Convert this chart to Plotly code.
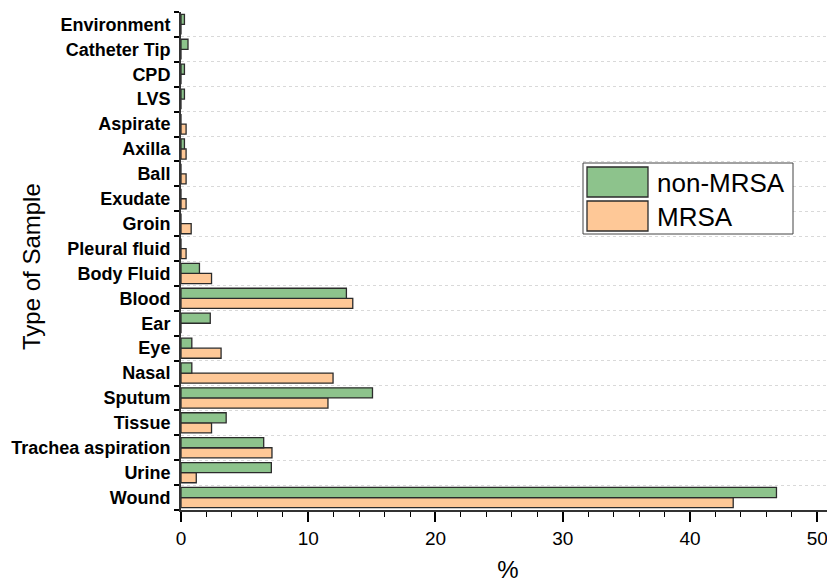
import plotly.graph_objects as go

categories = ["Wound", "Urine", "Trachea aspiration", "Tissue", "Sputum", "Nasal",
              "Eye", "Ear", "Blood", "Body Fluid", "Pleural fluid", "Groin",
              "Exudate", "Ball", "Axilla", "Aspirate", "LVS", "CPD",
              "Catheter Tip", "Environment"]
non_mrsa = [46.8, 7.1, 6.5, 3.55, 15.05, 0.85, 0.85, 2.3, 13.0, 1.45,
            0, 0, 0, 0, 0.27, 0, 0.27, 0.27, 0.55, 0.27]
mrsa = [43.4, 1.2, 7.15, 2.4, 11.55, 11.95, 3.15, 0, 13.5, 2.4,
        0.4, 0.8, 0.4, 0.4, 0.4, 0.4, 0, 0, 0, 0]
x_ticks = [0, 10, 20, 30, 40, 50]

GREEN = "#8dc38c"
ORANGE = "#fec897"
EDGE = "#2b2b2b"
FONT = "Liberation Sans, Arial, sans-serif"

# page offset of the figure inside the browser window (default body margin)
OFF = 8
W, H = 827, 575
ml, mr, mt, mb = 173, 0, 4, 73
pw, ph = W - ml - mr, H - mt - mb


def vx(px):
    """viewport x pixel -> paper x"""
    return (px - OFF - ml) / pw


def vy(py):
    """viewport y pixel -> paper y"""
    return 1 - (py - OFF - mt) / ph


fig = go.Figure()
fig.add_trace(go.Bar(y=categories, x=mrsa, orientation="h", name="MRSA",
                     marker=dict(color=ORANGE, line=dict(color=EDGE, width=1.3)),
                     showlegend=False))
fig.add_trace(go.Bar(y=categories, x=non_mrsa, orientation="h", name="non-MRSA",
                     marker=dict(color=GREEN, line=dict(color=EDGE, width=1.3)),
                     showlegend=False))

# legend drawn as box + swatches + labels
legend_items = [("non-MRSA", GREEN), ("MRSA", ORANGE)]
fig.add_shape(type="rect", xref="paper", yref="paper",
              x0=vx(583), x1=vx(793), y0=vy(234), y1=vy(163),
              line=dict(color="#444444", width=1), fillcolor="white", layer="above")
for i, (name, col) in enumerate(legend_items):
    top = 167 + i * 34
    fig.add_shape(type="rect", xref="paper", yref="paper",
                  x0=vx(587), x1=vx(648), y0=vy(top + 30), y1=vy(top),
                  line=dict(color=EDGE, width=1.3), fillcolor=col, layer="above")
    fig.add_annotation(xref="paper", yref="paper", x=vx(655),
                       y=vy(top + 16), text=name, showarrow=False,
                       xanchor="left", yanchor="middle",
                       font=dict(family=FONT, size=26, color="black"))

# y-axis title
fig.add_annotation(xref="paper", yref="paper", x=vx(31), y=vy(267),
                   text="Type of Sample", textangle=-90, showarrow=False,
                   xanchor="center", yanchor="middle",
                   font=dict(family=FONT, size=24, color="black"))

fig.update_layout(
    width=W, height=H,
    margin=dict(l=ml, r=mr, t=mt, b=mb),
    paper_bgcolor="white", plot_bgcolor="white",
    barmode="group", bargap=0.19, bargroupgap=0.0,
    font=dict(family=FONT, color="black"),
    xaxis=dict(range=[0, 51.4], tickvals=x_ticks, ticks="outside", ticklen=10,
               tickwidth=1.5, tickcolor="black",
               minor=dict(dtick=2, ticks="outside", ticklen=5, tickwidth=1.2,
                          tickcolor="black", showgrid=False),
               showline=True, linecolor="#333333", linewidth=2,
               showgrid=False, zeroline=False,
               tickfont=dict(size=19, family=FONT),
               title=dict(text="%", font=dict(size=24, family=FONT), standoff=18)),
    yaxis=dict(type="category", categoryorder="array", categoryarray=categories,
               range=[-0.5, len(categories) - 0.5],
               tickson="boundaries", ticks="outside", ticklen=5, tickwidth=1.5,
               tickcolor="black", ticklabelstandoff=5,
               showline=True, linecolor="#333333", linewidth=2,
               showgrid=True, gridcolor="#d9d9d9", griddash="dot", gridwidth=1,
               zeroline=False,
               tickfont=dict(size=18, family=FONT, weight="bold")),
)

fig.write_html("out.html")
